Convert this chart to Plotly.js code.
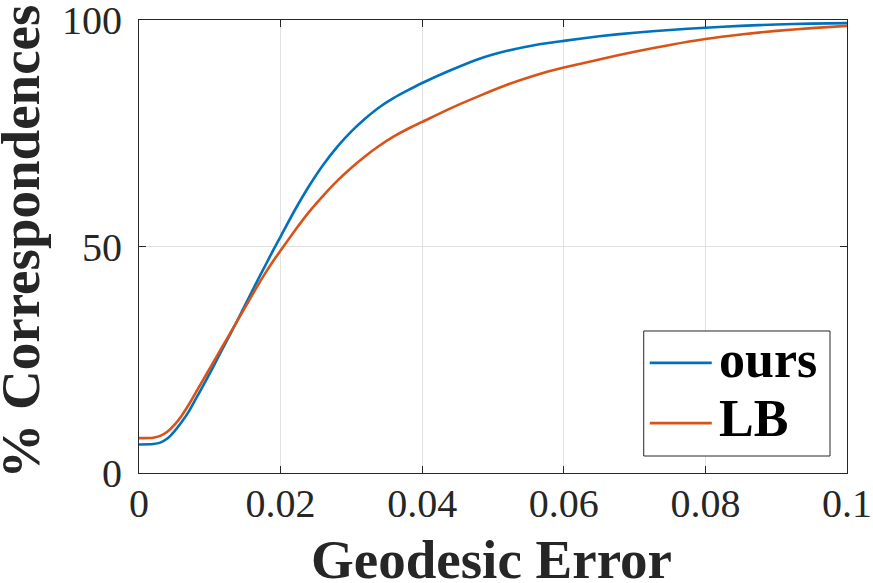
<!DOCTYPE html>
<html>
<head>
<meta charset="utf-8">
<script src="https://cdn.plot.ly/plotly-3.0.1.min.js"></script>
<style>html,body{margin:0;padding:0;background:#fff;}#chart{width:873px;height:583px;}</style>
</head>
<body>
<div id="chart"></div>
<script>
var errors = [0, 0.002, 0.003, 0.004, 0.005, 0.006, 0.007, 0.008, 0.009, 0.010, 0.011, 0.012, 0.013, 0.014, 0.015, 0.016, 0.017, 0.018, 0.019, 0.020, 0.022, 0.024, 0.026, 0.028, 0.030, 0.032, 0.034, 0.036, 0.038, 0.040, 0.044, 0.048, 0.052, 0.056, 0.060, 0.065, 0.070, 0.075, 0.080, 0.085, 0.090, 0.095, 0.100];
var oursValues = [6.3, 6.4, 6.7, 7.6, 9.2, 11.2, 13.5, 16.3, 19.1, 22.0, 25.0, 28.0, 31.0, 34.0, 37.1, 40.2, 43.3, 46.3, 49.3, 52.2, 58.0, 63.3, 68.0, 72.0, 75.4, 78.3, 80.8, 82.8, 84.5, 86.1, 88.9, 91.4, 93.2, 94.5, 95.4, 96.4, 97.2, 97.8, 98.3, 98.7, 99.0, 99.2, 99.3];
var lbValues = [7.7, 7.8, 8.2, 9.1, 10.6, 12.6, 15.0, 17.7, 20.4, 23.1, 25.8, 28.5, 31.2, 33.9, 36.6, 39.3, 42.0, 44.5, 46.9, 49.1, 53.5, 57.6, 61.2, 64.5, 67.4, 70.0, 72.3, 74.3, 76.0, 77.5, 80.5, 83.2, 85.7, 87.8, 89.5, 91.3, 93.0, 94.5, 95.8, 96.8, 97.6, 98.2, 98.7];
var seriesNames = ['ours', 'LB'];
var seriesColors = ['#0072BD', '#D95319'];
var xTickVals = [0, 0.02, 0.04, 0.06, 0.08, 0.1];
var xTickText = ['0', '0.02', '0.04', '0.06', '0.08', '0.1'];
var yTickVals = [0, 50, 100];
var yTickText = ['0', '50', '100'];
var xTitle = 'Geodesic Error';
var yTitle = '% Correspondences';

var serif = 'Liberation Serif, Times New Roman, serif';
var axisColor = '#262626';
var seriesValues = [oursValues, lbValues];

var traces = seriesValues.map(function (vals, i) {
  return {x: errors, y: vals, name: seriesNames[i], type: 'scatter', mode: 'lines', showlegend: false,
          line: {color: seriesColors[i], width: 2.6, shape: 'spline', smoothing: 0.7}};
});

// Hand-built legend box (paper coordinates)
var legBox = {x0: 0.7129, x1: 0.9760, y0: 0.0375, y1: 0.3135};
var legRowsY = [0.243, 0.110];
var legTextDy = [0.008, 0.011];
var legLineX = [0.7214, 0.8090];
var legTextX = 0.8180;
var shapes = [{type: 'rect', xref: 'paper', yref: 'paper', x0: legBox.x0, x1: legBox.x1, y0: legBox.y0, y1: legBox.y1,
               line: {color: axisColor, width: 1}, fillcolor: '#ffffff', layer: 'above'}];
var annotations = [];
seriesNames.forEach(function (nm, i) {
  shapes.push({type: 'line', xref: 'paper', yref: 'paper', x0: legLineX[0], x1: legLineX[1], y0: legRowsY[i], y1: legRowsY[i],
               line: {color: seriesColors[i], width: 2.6}, layer: 'above'});
  annotations.push({xref: 'paper', yref: 'paper', x: legTextX, y: legRowsY[i] + legTextDy[i], xanchor: 'left', yanchor: 'middle',
                    text: '<b>' + nm + '</b>', showarrow: false, borderpad: 0,
                    font: {family: serif, size: 52, color: '#000000'}});
});
// Axis titles
annotations.push({xref: 'paper', yref: 'paper', x: 0.498, y: -0.190, xanchor: 'center', yanchor: 'middle',
                  text: '<b>' + xTitle + '</b>', showarrow: false, borderpad: 0,
                  font: {family: serif, size: 55, color: axisColor}});
annotations.push({xref: 'paper', yref: 'paper', x: -0.167, y: 0.51, xanchor: 'center', yanchor: 'middle', textangle: -90,
                  text: '<b>' + yTitle + '</b>', showarrow: false, borderpad: 0,
                  font: {family: serif, size: 55, color: axisColor}});

var layout = {
  width: 873, height: 583,
  margin: {l: 139, r: 26, t: 20, b: 110, pad: 0},
  paper_bgcolor: '#ffffff', plot_bgcolor: '#ffffff',
  font: {family: serif, color: axisColor, size: 40},
  showlegend: false,
  shapes: shapes,
  annotations: annotations,
  xaxis: {
    range: [0, 0.1], tickvals: xTickVals, ticktext: xTickText,
    ticks: 'inside', ticklen: 7, tickwidth: 1, tickcolor: axisColor,
    showline: true, linecolor: axisColor, linewidth: 1, mirror: 'ticks',
    showgrid: true, gridcolor: '#e1e1e1', gridwidth: 1, zeroline: false,
    tickfont: {family: serif, size: 40, color: axisColor},
    ticklabelstandoff: -5, ticklabeloverflow: 'allow',
    automargin: false
  },
  yaxis: {
    range: [0, 100], tickvals: yTickVals, ticktext: yTickText,
    ticks: 'inside', ticklen: 7, tickwidth: 1, tickcolor: axisColor,
    showline: true, linecolor: axisColor, linewidth: 1, mirror: 'ticks',
    showgrid: true, gridcolor: '#e1e1e1', gridwidth: 1, zeroline: false,
    tickfont: {family: serif, size: 40, color: axisColor},
    ticklabelstandoff: 8, ticklabeloverflow: 'allow',
    automargin: false
  }
};

Plotly.newPlot('chart', traces, layout, {displayModeBar: false, staticPlot: true});
</script>
</body>
</html>
